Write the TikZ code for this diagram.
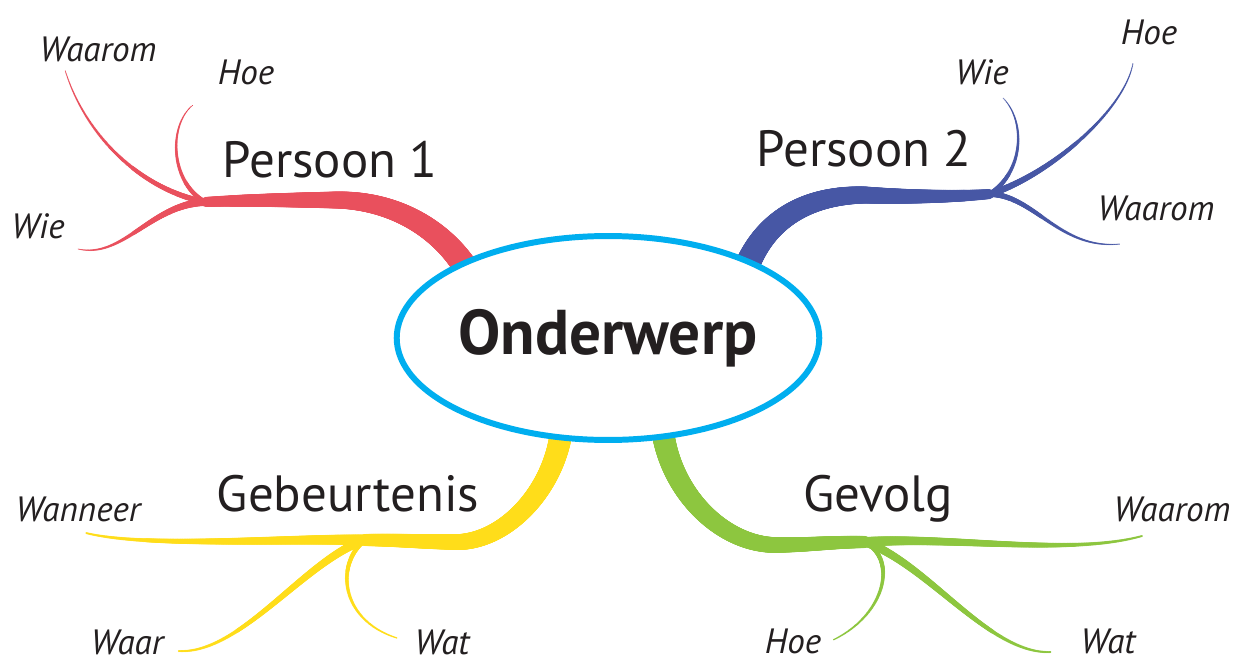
\documentclass[tikz,border=0pt]{standalone}
\usepackage{fontspec}
\setmainfont{PT Sans}
\usetikzlibrary{shapes.geometric,decorations.markings}
\definecolor{inkc}{HTML}{231F20}
\definecolor{topicc}{HTML}{00AEEF}
\definecolor{onec}{HTML}{E9505D}
\definecolor{twoc}{HTML}{4757A5}
\definecolor{eventc}{HTML}{FFDD1A}
\definecolor{resultc}{HTML}{8DC63F}
\tikzset{
  branch/.style n args={3}{decoration={markings,
      mark=between positions 0 and 1 step 0.4pt with {
        \pgfmathsetmacro\brw{0.2835*(#1+(#2-#1)*\pgfkeysvalueof{/pgf/decoration/mark info/distance from start}/\pgfdecoratedpathlength)}
        \fill[#3] (0,0) circle (\brw pt);}},
    decorate},
  head/.style={font=\fontsize{29}{32}\selectfont, text=inkc, anchor=base, inner sep=0pt},
  leaf/.style={font=\fontsize{20}{22}\selectfont\itshape, text=inkc, anchor=base, inner sep=0pt},
}
\begin{document}
\begin{tikzpicture}[x=0.02cm, y=-0.02cm]
\useasboundingbox (0,0) rectangle (1237,662);
\coordinate (oneroot) at (475,285);
\coordinate (onebend) at (335,200);
\coordinate (oneknot) at (205,202);
\coordinate (onewhy) at (65,70);
\coordinate (onehow) at (193,105);
\coordinate (onewho) at (78,249);
\coordinate (tworoot) at (742,280);
\coordinate (twobend) at (865,195);
\coordinate (twoknot) at (990,194);
\coordinate (twohow) at (1133,63);
\coordinate (twowho) at (1003,98);
\coordinate (twowhy) at (1120,244);
\coordinate (threeroot) at (562,425);
\coordinate (threebend) at (460,542);
\coordinate (threeknot) at (365,540);
\coordinate (threewhen) at (86,533);
\coordinate (threewhere) at (178,651);
\coordinate (threewhat) at (397,638);
\coordinate (fourroot) at (662,425);
\coordinate (fourbend) at (775,545);
\coordinate (fourknot) at (865,542);
\coordinate (fourwhy) at (1142,536);
\coordinate (fourhow) at (833,640);
\coordinate (fourwhat) at (1051,652);

\path[branch={26}{10}{onec}] (oneroot) .. controls +(-20,-45) and +(70,0) .. (onebend) .. controls +(-35,0) and +(40,-2) .. (oneknot);
\path[branch={6}{1}{onec}] (oneknot) .. controls +(-65,-13) and +(20,65) .. (onewhy);
\path[branch={5}{1}{onec}] (oneknot) .. controls +(-35,-20) and +(-25,20) .. (onehow);
\path[branch={8}{1}{onec}] (oneknot) .. controls +(-55,3) and +(45,10) .. (onewho);

\path[branch={26}{10}{twoc}] (tworoot) .. controls +(15,-50) and +(-70,0) .. (twobend) .. controls +(40,2) and +(-35,3) .. (twoknot);
\path[branch={7}{1}{twoc}] (twoknot) .. controls +(60,-19) and +(-8,47) .. (twohow);
\path[branch={5}{1}{twoc}] (twoknot) .. controls +(35,-24) and +(22,22) .. (twowho);
\path[branch={6}{1}{twoc}] (twoknot) .. controls +(45,2) and +(-60,6) .. (twowhy);

\path[branch={23}{12}{eventc}] (threeroot) .. controls +(-5,60) and +(50,-3) .. (threebend) .. controls +(-35,0) and +(35,0) .. (threeknot);
\path[branch={11}{2}{eventc}] (threeknot) .. controls +(-75,-2) and +(60,15) .. (threewhen);
\path[branch={9}{2}{eventc}] (threeknot) .. controls +(-60,20) and +(62,4) .. (threewhere);
\path[branch={5}{1.5}{eventc}] (threeknot) .. controls +(-30,24) and +(-57,-18) .. (threewhat);

\path[branch={23}{12}{resultc}] (fourroot) .. controls +(6,65) and +(-55,-1) .. (fourbend) .. controls +(35,0) and +(-35,0) .. (fourknot);
\path[branch={10}{2}{resultc}] (fourknot) .. controls +(85,-6) and +(-72,20) .. (fourwhy);
\path[branch={5}{1.5}{resultc}] (fourknot) .. controls +(33,18) and +(52,-25) .. (fourhow);
\path[branch={9}{2}{resultc}] (fourknot) .. controls +(63,22) and +(-61,3) .. (fourwhat);

\node[ellipse, draw=topicc, line width=3.4pt, fill=white, minimum width=8.42cm, minimum height=4.08cm, inner sep=0pt, text=inkc, font=\fontsize{36}{40}\selectfont\bfseries] (topic) at (608,338) {Onderwerp};

\node[head] (one) at (330,178) {Persoon 1};
\node[leaf] (onewhytxt) at (98,62) {Waarom};
\node[leaf] (onehowtxt) at (246,85) {Hoe};
\node[leaf] (onewhotxt) at (38,238) {Wie};

\node[head] (two) at (864,167) {Persoon 2};
\node[leaf] (twohowtxt) at (1149,45) {Hoe};
\node[leaf] (twowhotxt) at (982,85) {Wie};
\node[leaf] (twowhytxt) at (1156,221) {Waarom};

\node[head] (three) at (348,511) {Gebeurtenis};
\node[leaf] (threewhentxt) at (78,521) {Wanneer};
\node[leaf] (threewheretxt) at (127,654) {Waar};
\node[leaf] (threewhattxt) at (442,654) {Wat};

\node[head] (four) at (878,511) {Gevolg};
\node[leaf] (fourwhytxt) at (1172,521) {Waarom};
\node[leaf] (fourhowtxt) at (793,653) {Hoe};
\node[leaf] (fourwhattxt) at (1108,653) {Wat};
\end{tikzpicture}
\end{document}
